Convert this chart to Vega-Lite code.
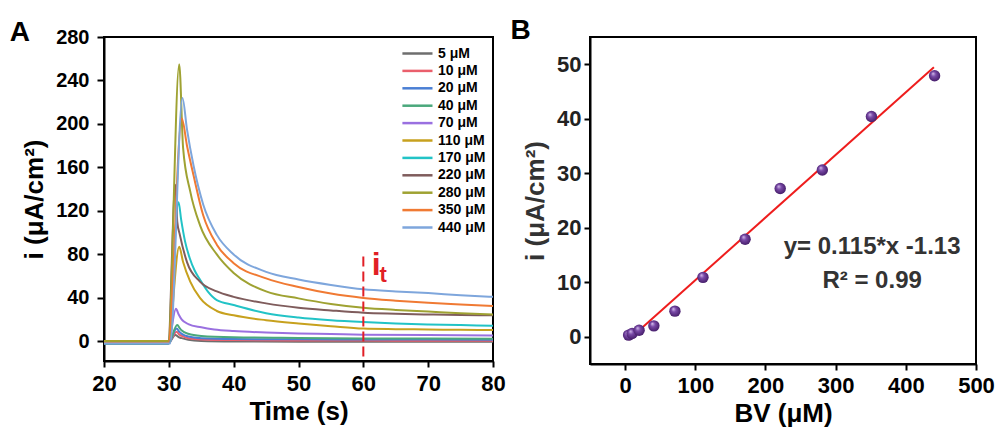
{
  "$schema": "https://vega.github.io/schema/vega-lite/v6.json",
  "background": "white",
  "padding": {"left": 8, "top": 16, "right": 5, "bottom": 5},
  "spacing": 2,
  "datasets": {
    "curves": [
      {"t": 20, "i": -2, "c": "5 μM"}, {"t": 29.9, "i": -2, "c": "5 μM"}, {"t": 31.0, "i": 6, "c": "5 μM"}, {"t": 31.5, "i": 4, "c": "5 μM"}, {"t": 32, "i": 3, "c": "5 μM"}, {"t": 33, "i": 1.5, "c": "5 μM"}, {"t": 35, "i": 0.5, "c": "5 μM"}, {"t": 40, "i": 0, "c": "5 μM"}, {"t": 50, "i": -0.2, "c": "5 μM"}, {"t": 60, "i": -0.2, "c": "5 μM"}, {"t": 70, "i": -0.3, "c": "5 μM"}, {"t": 80, "i": -0.3, "c": "5 μM"},
      {"t": 20, "i": -1.5, "c": "10 μM"}, {"t": 29.9, "i": -1.5, "c": "10 μM"}, {"t": 31.2, "i": 9, "c": "10 μM"}, {"t": 31.6, "i": 6.5, "c": "10 μM"}, {"t": 32, "i": 5, "c": "10 μM"}, {"t": 33, "i": 3, "c": "10 μM"}, {"t": 35, "i": 1.8, "c": "10 μM"}, {"t": 40, "i": 1.2, "c": "10 μM"}, {"t": 50, "i": 0.9, "c": "10 μM"}, {"t": 60, "i": 0.8, "c": "10 μM"}, {"t": 70, "i": 0.7, "c": "10 μM"}, {"t": 80, "i": 0.7, "c": "10 μM"},
      {"t": 20, "i": -2.2, "c": "20 μM"}, {"t": 29.9, "i": -2.2, "c": "20 μM"}, {"t": 31.2, "i": 12, "c": "20 μM"}, {"t": 31.6, "i": 9, "c": "20 μM"}, {"t": 32, "i": 7, "c": "20 μM"}, {"t": 33, "i": 4.5, "c": "20 μM"}, {"t": 35, "i": 3, "c": "20 μM"}, {"t": 40, "i": 2.2, "c": "20 μM"}, {"t": 50, "i": 1.9, "c": "20 μM"}, {"t": 60, "i": 1.8, "c": "20 μM"}, {"t": 70, "i": 1.7, "c": "20 μM"}, {"t": 80, "i": 1.6, "c": "20 μM"},
      {"t": 20, "i": -1.8, "c": "40 μM"}, {"t": 29.9, "i": -1.8, "c": "40 μM"}, {"t": 31.3, "i": 15, "c": "40 μM"}, {"t": 31.7, "i": 12, "c": "40 μM"}, {"t": 32, "i": 10, "c": "40 μM"}, {"t": 33, "i": 7, "c": "40 μM"}, {"t": 35, "i": 5, "c": "40 μM"}, {"t": 40, "i": 3.8, "c": "40 μM"}, {"t": 50, "i": 3.2, "c": "40 μM"}, {"t": 60, "i": 2.8, "c": "40 μM"}, {"t": 70, "i": 2.6, "c": "40 μM"}, {"t": 80, "i": 2.5, "c": "40 μM"},
      {"t": 20, "i": -1.5, "c": "70 μM"}, {"t": 29.9, "i": -1.5, "c": "70 μM"}, {"t": 31.1, "i": 30, "c": "70 μM"}, {"t": 31.5, "i": 25, "c": "70 μM"}, {"t": 32, "i": 20, "c": "70 μM"}, {"t": 33, "i": 16, "c": "70 μM"}, {"t": 35, "i": 13, "c": "70 μM"}, {"t": 37, "i": 11, "c": "70 μM"}, {"t": 40, "i": 9.5, "c": "70 μM"}, {"t": 45, "i": 8.2, "c": "70 μM"}, {"t": 50, "i": 7.4, "c": "70 μM"}, {"t": 55, "i": 6.8, "c": "70 μM"}, {"t": 60, "i": 6.2, "c": "70 μM"}, {"t": 70, "i": 5.8, "c": "70 μM"}, {"t": 80, "i": 5.5, "c": "70 μM"},
      {"t": 20, "i": 0.5, "c": "110 μM"}, {"t": 29.9, "i": 0.5, "c": "110 μM"}, {"t": 31.6, "i": 87, "c": "110 μM"}, {"t": 32.2, "i": 73, "c": "110 μM"}, {"t": 33.3, "i": 55, "c": "110 μM"}, {"t": 34.8, "i": 40, "c": "110 μM"}, {"t": 37.4, "i": 28, "c": "110 μM"}, {"t": 40, "i": 24, "c": "110 μM"}, {"t": 45, "i": 19.5, "c": "110 μM"}, {"t": 50, "i": 16.5, "c": "110 μM"}, {"t": 55, "i": 14, "c": "110 μM"}, {"t": 60, "i": 11.8, "c": "110 μM"}, {"t": 65, "i": 11.3, "c": "110 μM"}, {"t": 70, "i": 11, "c": "110 μM"}, {"t": 75, "i": 10.7, "c": "110 μM"}, {"t": 80, "i": 10.5, "c": "110 μM"},
      {"t": 20, "i": -1, "c": "170 μM"}, {"t": 29.9, "i": -1, "c": "170 μM"}, {"t": 31.5, "i": 128, "c": "170 μM"}, {"t": 31.9, "i": 112, "c": "170 μM"}, {"t": 32.5, "i": 92, "c": "170 μM"}, {"t": 33.2, "i": 77, "c": "170 μM"}, {"t": 34, "i": 65, "c": "170 μM"}, {"t": 34.8, "i": 57, "c": "170 μM"}, {"t": 36, "i": 46, "c": "170 μM"}, {"t": 37.4, "i": 38, "c": "170 μM"}, {"t": 40, "i": 33.5, "c": "170 μM"}, {"t": 45, "i": 26, "c": "170 μM"}, {"t": 50, "i": 22, "c": "170 μM"}, {"t": 55, "i": 19.5, "c": "170 μM"}, {"t": 60, "i": 17.8, "c": "170 μM"}, {"t": 65, "i": 16.5, "c": "170 μM"}, {"t": 70, "i": 15.6, "c": "170 μM"}, {"t": 75, "i": 15, "c": "170 μM"}, {"t": 80, "i": 14.4, "c": "170 μM"},
      {"t": 20, "i": -1.2, "c": "220 μM"}, {"t": 29.9, "i": -1.2, "c": "220 μM"}, {"t": 31.0, "i": 144, "c": "220 μM"}, {"t": 31.3, "i": 110, "c": "220 μM"}, {"t": 31.7, "i": 98, "c": "220 μM"}, {"t": 32.8, "i": 73, "c": "220 μM"}, {"t": 34.8, "i": 55, "c": "220 μM"}, {"t": 37.4, "i": 46, "c": "220 μM"}, {"t": 40, "i": 41, "c": "220 μM"}, {"t": 45, "i": 35, "c": "220 μM"}, {"t": 50, "i": 31, "c": "220 μM"}, {"t": 55, "i": 28.5, "c": "220 μM"}, {"t": 60, "i": 26.4, "c": "220 μM"}, {"t": 65, "i": 25.5, "c": "220 μM"}, {"t": 70, "i": 24.8, "c": "220 μM"}, {"t": 75, "i": 24.3, "c": "220 μM"}, {"t": 80, "i": 24, "c": "220 μM"},
      {"t": 20, "i": 0.2, "c": "280 μM"}, {"t": 29.9, "i": 0.2, "c": "280 μM"}, {"t": 31.6, "i": 255, "c": "280 μM"}, {"t": 32.2, "i": 178, "c": "280 μM"}, {"t": 33.3, "i": 138, "c": "280 μM"}, {"t": 34.8, "i": 107, "c": "280 μM"}, {"t": 37.4, "i": 80, "c": "280 μM"}, {"t": 40, "i": 63, "c": "280 μM"}, {"t": 45, "i": 46, "c": "280 μM"}, {"t": 50, "i": 39.6, "c": "280 μM"}, {"t": 55, "i": 34.5, "c": "280 μM"}, {"t": 60, "i": 31, "c": "280 μM"}, {"t": 65, "i": 29, "c": "280 μM"}, {"t": 70, "i": 27.5, "c": "280 μM"}, {"t": 75, "i": 26, "c": "280 μM"}, {"t": 80, "i": 24.8, "c": "280 μM"},
      {"t": 20, "i": -1.5, "c": "350 μM"}, {"t": 29.9, "i": -1.5, "c": "350 μM"}, {"t": 32.0, "i": 205, "c": "350 μM"}, {"t": 32.8, "i": 180, "c": "350 μM"}, {"t": 33.8, "i": 153, "c": "350 μM"}, {"t": 35.3, "i": 116, "c": "350 μM"}, {"t": 37.4, "i": 89, "c": "350 μM"}, {"t": 40, "i": 72, "c": "350 μM"}, {"t": 45, "i": 58, "c": "350 μM"}, {"t": 50, "i": 50, "c": "350 μM"}, {"t": 55, "i": 44, "c": "350 μM"}, {"t": 60, "i": 40, "c": "350 μM"}, {"t": 65, "i": 37.5, "c": "350 μM"}, {"t": 70, "i": 35.5, "c": "350 μM"}, {"t": 75, "i": 34, "c": "350 μM"}, {"t": 80, "i": 32.5, "c": "350 μM"},
      {"t": 20, "i": -2, "c": "440 μM"}, {"t": 30.2, "i": -2, "c": "440 μM"}, {"t": 32.1, "i": 224, "c": "440 μM"}, {"t": 32.8, "i": 195, "c": "440 μM"}, {"t": 33.8, "i": 162, "c": "440 μM"}, {"t": 35.3, "i": 126, "c": "440 μM"}, {"t": 37.4, "i": 98, "c": "440 μM"}, {"t": 40, "i": 80, "c": "440 μM"}, {"t": 45, "i": 64, "c": "440 μM"}, {"t": 50, "i": 57, "c": "440 μM"}, {"t": 55, "i": 52, "c": "440 μM"}, {"t": 60, "i": 48, "c": "440 μM"}, {"t": 65, "i": 46, "c": "440 μM"}, {"t": 70, "i": 44.5, "c": "440 μM"}, {"t": 75, "i": 42.5, "c": "440 μM"}, {"t": 80, "i": 41, "c": "440 μM"}
    ],
    "pts": [
      {"bv": 5, "i": 0.3}, {"bv": 10, "i": 0.6}, {"bv": 20, "i": 1.2}, {"bv": 41, "i": 2.0}, {"bv": 71, "i": 4.7},
      {"bv": 111, "i": 10.9}, {"bv": 171, "i": 17.9}, {"bv": 221, "i": 27.2}, {"bv": 281, "i": 30.6}, {"bv": 351, "i": 40.4}, {"bv": 441, "i": 47.9}
    ]
  },
  "config": {
    "font": "Liberation Sans",
    "view": {"stroke": "black", "strokeWidth": 2},
    "axis": {
      "labelFont": "Liberation Sans", "labelFontWeight": "bold", "labelColor": "black",
      "titleFont": "Liberation Sans", "titleFontWeight": "bold", "titleColor": "black", "titleFontSize": 26,
      "domainColor": "black", "domainWidth": 2, "tickColor": "black", "tickWidth": 2,
      "grid": false, "labelFlush": false, "labelOverlap": false
    },
    "title": {"font": "Liberation Sans", "fontWeight": "bold", "fontSize": 28, "color": "black"}
  },
  "hconcat": [
    {
      "width": 389, "height": 324,
      "title": {"text": "A", "anchor": "start", "frame": "bounds", "offset": -20, "dx": -12},
      "layer": [
        {
          "data": {"name": "curves"},
          "mark": {"type": "line", "strokeWidth": 2, "interpolate": "monotone", "clip": true},
          "encoding": {
            "x": {"field": "t", "type": "quantitative", "title": "Time (s)",
              "scale": {"domain": [20, 80], "nice": false},
              "axis": {"values": [20, 25, 30, 35, 40, 45, 50, 55, 60, 65, 70, 75, 80],
                "labelExpr": "datum.value % 10 === 0 ? datum.label : ''",
                "tickSize": {"condition": {"test": "datum.value % 10 === 0", "value": 6}, "value": 3},
                "labelFontSize": 22, "labelPadding": 6, "titlePadding": 4}},
            "y": {"field": "i", "type": "quantitative", "title": "i (μA/cm²)",
              "scale": {"domain": [-18, 280], "nice": false, "zero": false},
              "axis": {"values": [0, 20, 40, 60, 80, 100, 120, 140, 160, 180, 200, 220, 240, 260, 280],
                "labelExpr": "datum.value % 40 === 0 ? datum.label : ''",
                "tickSize": {"condition": {"test": "datum.value % 40 === 0", "value": 7}, "value": 3},
                "labelFontSize": 20, "labelPadding": 8, "titlePadding": 8}},
            "color": {"field": "c", "type": "nominal",
              "scale": {"domain": ["5 μM", "10 μM", "20 μM", "40 μM", "70 μM", "110 μM", "170 μM", "220 μM", "280 μM", "350 μM", "440 μM"],
                "range": ["#6e6e6e", "#ea5f6c", "#4a7fd4", "#4aa87c", "#9a70e0", "#c7a11e", "#22c3c6", "#7f5c5c", "#9fa232", "#f07a33", "#7ea6dc"]},
              "legend": {"title": null, "orient": "none", "legendX": 313, "legendY": 8, "padding": 0,
                "symbolType": "M-3.3,0H1", "symbolSize": 196, "symbolStrokeWidth": 2.5,
                "labelFontSize": 14, "labelFontWeight": "bold", "labelFont": "Liberation Sans", "labelColor": "black",
                "rowPadding": 1.4, "labelOffset": 4}}
          }
        },
        {
          "data": {"values": [{"t": 60, "y1": 78, "y2": -18}]},
          "mark": {"type": "rule", "color": "#e11f26", "strokeWidth": 2, "strokeDash": [10, 5]},
          "encoding": {
            "x": {"field": "t", "type": "quantitative"},
            "y": {"field": "y1", "type": "quantitative"},
            "y2": {"field": "y2"}
          }
        },
        {
          "data": {"values": [{"t": 61.3, "v": 61, "s": "i"}]},
          "mark": {"type": "text", "align": "left", "baseline": "alphabetic", "fontSize": 32, "fontWeight": "bold", "color": "#e11f26"},
          "encoding": {
            "x": {"field": "t", "type": "quantitative"},
            "y": {"field": "v", "type": "quantitative"},
            "text": {"field": "s"}
          }
        },
        {
          "data": {"values": [{"t": 62.5, "v": 55, "s": "t"}]},
          "mark": {"type": "text", "align": "left", "baseline": "alphabetic", "fontSize": 22, "fontWeight": "bold", "color": "#e11f26"},
          "encoding": {
            "x": {"field": "t", "type": "quantitative"},
            "y": {"field": "v", "type": "quantitative"},
            "text": {"field": "s"}
          }
        }
      ]
    },
    {
      "width": 386, "height": 327,
      "title": {"text": "B", "anchor": "start", "frame": "bounds", "offset": -8, "dx": -12},
      "layer": [
        {
          "data": {"values": [{"bv": 5, "i": -0.555}, {"bv": 440, "i": 49.47}]},
          "mark": {"type": "line", "color": "#ee1d1d", "strokeWidth": 2},
          "encoding": {
            "x": {"field": "bv", "type": "quantitative", "title": "BV (μM)",
              "scale": {"domain": [-50, 500], "nice": false, "zero": false},
              "axis": {"values": [0, 50, 100, 150, 200, 250, 300, 350, 400, 450, 500],
                "labelExpr": "datum.value % 100 === 0 ? datum.label : ''",
                "tickSize": {"condition": {"test": "datum.value % 100 === 0", "value": 6}, "value": 3},
                "labelFontSize": 22, "labelPadding": 5, "titlePadding": 4}},
            "y": {"field": "i", "type": "quantitative", "title": "i (μA/cm²)",
              "scale": {"domain": [-5, 55], "nice": false, "zero": false},
              "axis": {"values": [0, 5, 10, 15, 20, 25, 30, 35, 40, 45, 50],
                "labelExpr": "datum.value % 10 === 0 ? datum.label : ''",
                "tickSize": {"condition": {"test": "datum.value % 10 === 0", "value": 6}, "value": 3},
                "labelFontSize": 22, "labelPadding": 3, "titlePadding": 8, "labelColor": "#222", "titleColor": "#333"}}
          }
        },
        {
          "data": {"name": "pts"},
          "mark": {"type": "point", "shape": "circle", "filled": true, "size": 130, "opacity": 1, "strokeWidth": 0,
            "fill": {"gradient": "radial", "x1": 0.35, "y1": 0.3, "r1": 0, "x2": 0.5, "y2": 0.5, "r2": 0.6,
              "stops": [{"offset": 0, "color": "#d9c4ef"}, {"offset": 0.35, "color": "#7a4aa8"}, {"offset": 1, "color": "#3a145c"}]}},
          "encoding": {
            "x": {"field": "bv", "type": "quantitative"},
            "y": {"field": "i", "type": "quantitative"}
          }
        },
        {
          "data": {"values": [{"bv": 352, "i": 16.4, "s": "y= 0.115*x -1.13"}, {"bv": 352, "i": 10.2, "s": "R² = 0.99"}]},
          "mark": {"type": "text", "fontSize": 24, "fontWeight": "bold", "color": "#333", "baseline": "middle"},
          "encoding": {
            "x": {"field": "bv", "type": "quantitative"},
            "y": {"field": "i", "type": "quantitative"},
            "text": {"field": "s"}
          }
        }
      ]
    }
  ]
}
